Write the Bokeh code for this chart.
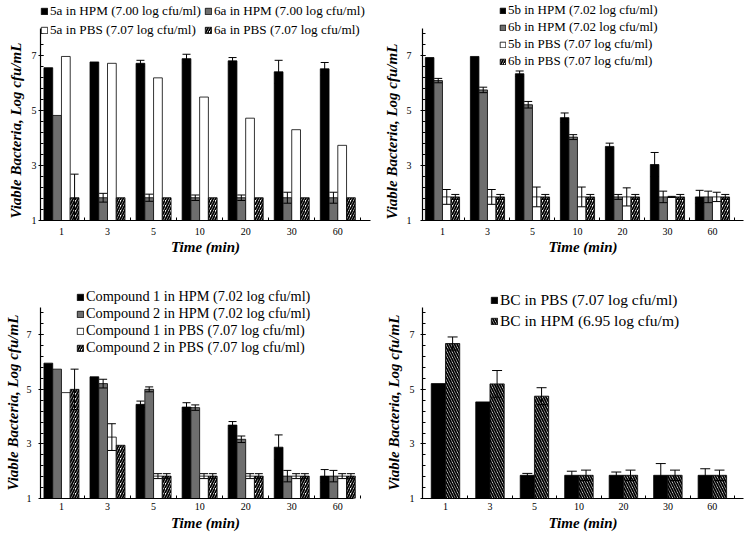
import numpy as np
from bokeh.plotting import figure
from bokeh.models import (ColumnDataSource, Range1d, FixedTicker, Whisker,
                          TeeHead, Legend, LegendItem, Title)
from bokeh.layouts import row, column
from bokeh.embed import file_html
from bokeh.resources import INLINE

# ---------------- data ----------------
times = ["1", "3", "5", "10", "20", "30", "60"]
y_ticks = [1, 3, 5, 7]

# panel A (top-left)
a5_hpm = [6.57, 6.78, 6.73, 6.90, 6.82, 6.42, 6.53]
a5_hpm_err = [0, 0, 0.11, 0.16, 0.12, 0.42, 0.23]
a6_hpm = [4.83, 1.83, 1.83, 1.83, 1.83, 1.83, 1.83]
a6_hpm_err = [0, 0.16, 0.13, 0.10, 0.10, 0.20, 0.20]
a5_pbs = [6.98, 6.73, 6.20, 5.50, 4.73, 4.31, 3.74]
a5_pbs_err = [0, 0, 0, 0, 0, 0, 0]
a6_pbs = [1.83, 1.83, 1.83, 1.83, 1.83, 1.83, 1.83]
a6_pbs_err = [0.86, 0, 0, 0, 0, 0, 0]

# panel B (top-right)
b5_hpm = [6.94, 6.98, 6.35, 4.75, 3.70, 3.04, 1.86]
b5_hpm_err = [0, 0, 0.10, 0.17, 0.12, 0.44, 0.24]
b6_hpm = [6.10, 5.76, 5.22, 4.04, 1.86, 1.86, 1.86]
b6_hpm_err = [0.08, 0.10, 0.12, 0.09, 0.09, 0.21, 0.21]
b5_pbs = [1.86, 1.86, 1.86, 1.86, 1.86, 1.86, 1.86]
b5_pbs_err = [0.27, 0.27, 0.36, 0.36, 0.33, 0.02, 0.17]
b6_pbs = [1.86, 1.86, 1.86, 1.86, 1.86, 1.86, 1.86]
b6_pbs_err = [0.09, 0.09, 0.09, 0.09, 0.09, 0.09, 0.09]

# panel C (bottom-left)
c1_hpm = [5.96, 5.46, 4.45, 4.35, 3.69, 2.88, 1.82]
c1_hpm_err = [0, 0, 0.12, 0.16, 0.13, 0.45, 0.24]
c2_hpm = [5.74, 5.21, 5.00, 4.33, 3.17, 1.82, 1.82]
c2_hpm_err = [0, 0.16, 0.09, 0.10, 0.12, 0.21, 0.21]
c1_pbs = [4.88, 3.25, 1.82, 1.82, 1.82, 1.82, 1.82]
c1_pbs_err = [0, 0.49, 0.09, 0.09, 0.09, 0.09, 0.09]
c2_pbs = [5.00, 2.95, 1.82, 1.82, 1.82, 1.82, 1.82]
c2_pbs_err = [0.74, 0, 0.09, 0.09, 0.09, 0.09, 0.09]

# panel D (bottom-right)
bc_pbs = [5.21, 4.54, 1.85, 1.85, 1.85, 1.85, 1.85]
bc_pbs_err = [0, 0, 0.07, 0.15, 0.12, 0.43, 0.24]
bc_hpm = [6.68, 5.20, 4.75, 1.85, 1.85, 1.85, 1.85]
bc_hpm_err = [0.24, 0.49, 0.31, 0.19, 0.19, 0.19, 0.19]

# ---------------- styles ----------------
FONT = "Liberation Serif"
BLACK = dict(fill_color="black", line_color="black")
GRAY = dict(fill_color="#6e6e6e", line_color="black")
WHITE = dict(fill_color="white", line_color="black")
HATCH_R = dict(fill_color="white", line_color="black", hatch_pattern="right_diagonal_line",
               hatch_color="black", hatch_scale=5, hatch_weight=1.8)
HATCH_L = dict(fill_color="white", line_color="black", hatch_pattern="left_diagonal_line",
               hatch_color="black", hatch_scale=5, hatch_weight=1.8)


def make_panel(series, width, height, borders, xr, xbounds, ytop, bar_w, head, leg,
               x_standoff, x_title_standoff, y_standoff, ytitle_standoff, ytitle_offset):
    p = figure(width=width, height=height, x_range=Range1d(*xr), y_range=Range1d(1, ytop),
               output_backend="svg", toolbar_location=None,
               min_border_left=borders[0], min_border_right=borders[1],
               min_border_top=borders[2], min_border_bottom=borders[3])
    p.outline_line_color = None
    p.xgrid.visible = False
    p.ygrid.visible = False
    pos = np.arange(1, len(times) + 1)
    n = len(series)
    items = []
    for k, s in enumerate(series):
        off = (k - (n - 1) / 2) * bar_w
        x = pos + off
        vals = np.array(s["values"], dtype=float)
        err = np.array(s["err"], dtype=float)
        src = ColumnDataSource(dict(x=x, top=vals))
        r = p.vbar(x="x", top="top", bottom=1, width=bar_w, source=src,
                   line_width=0.8, **s["style"])
        items.append(LegendItem(label=s["label"], renderers=[r]))
        m = err > 0
        if m.any():
            wsrc = ColumnDataSource(dict(x=x[m], upper=(vals + err)[m], lower=(vals - err)[m]))
            w = Whisker(source=wsrc, base="x", upper="upper", lower="lower",
                        line_color="black", line_width=1, level="annotation",
                        upper_head=TeeHead(size=head, line_color="black", line_width=1),
                        lower_head=TeeHead(size=head, line_color="black", line_width=1))
            p.add_layout(w)

    xa = p.xaxis[0]
    xa.ticker = FixedTicker(ticks=[int(v) for v in pos], minor_ticks=[float(v) + 0.5 for v in pos])
    xa.major_label_overrides = {int(v): t for v, t in zip(pos, times)}
    xa.bounds = xbounds
    xa.major_tick_in = 0
    xa.major_tick_out = 0
    xa.minor_tick_in = 3
    xa.minor_tick_out = 0
    xa.major_label_standoff = x_standoff
    xa.axis_label = "Time (min)"
    xa.axis_label_standoff = x_title_standoff
    xa.axis_label_text_font = FONT
    xa.axis_label_text_font_size = "15px"
    xa.axis_label_text_font_style = "bold italic"
    xa.axis_label_text_color = "black"

    ya = p.yaxis[0]
    ya.ticker = FixedTicker(ticks=y_ticks, minor_ticks=[float(v) for v in np.arange(1, 8.01, 0.4)])
    ya.bounds = (1, 8)
    ya.major_tick_in = 3
    ya.major_tick_out = 2
    ya.minor_tick_in = 3
    ya.minor_tick_out = 0
    ya.major_label_standoff = y_standoff

    for ax in (xa, ya):
        ax.axis_line_color = "black"
        ax.axis_line_width = 1.2
        ax.major_tick_line_color = "black"
        ax.minor_tick_line_color = "black"
        ax.major_label_text_font = FONT
        ax.major_label_text_font_size = "10px"
        ax.major_label_text_color = "black"

    # y-axis title, anchored near the bottom of the axis like the original
    ytitle = Title(text="Viable Bacteria, Log cfu/mL", align="left", offset=ytitle_offset,
                   standoff=ytitle_standoff, text_font=FONT, text_font_size="15px",
                   text_font_style="bold italic", text_color="black")
    p.add_layout(ytitle, "left")

    legend = Legend(items=items, location=leg["loc"], orientation=leg.get("orientation", "vertical"),
                    ncols=leg.get("ncols", 1),
                    label_text_font=FONT, label_text_font_size=leg["size"],
                    label_text_color="black",
                    glyph_width=leg["glyph"], glyph_height=leg["glyph"],
                    label_standoff=2, spacing=leg["spacing"], label_height=5,
                    padding=0, margin=0, border_line_color=None,
                    background_fill_alpha=0)
    p.add_layout(legend)
    return p


tl = make_panel(
    [dict(label="5a in HPM (7.00 log cfu/ml)", values=a5_hpm, err=a5_hpm_err, style=BLACK),
     dict(label="6a in HPM (7.00 log cfu/ml)", values=a6_hpm, err=a6_hpm_err, style=GRAY),
     dict(label="5a in PBS (7.07 log cfu/ml)", values=a5_pbs, err=a5_pbs_err, style=WHITE),
     dict(label="6a in PBS (7.07 log cfu/ml)", values=a6_pbs, err=a6_pbs_err, style=HATCH_R)],
    372, 258, (39, 2, 0, 38), (0.545, 7.71), (0.545, 7.71), 9.02, 0.19, 8,
    dict(loc=(0, 182), orientation="horizontal", ncols=2, size="13.2px", glyph=8, spacing=3),
    7, 1, 2, 10, 2)

tr = make_panel(
    [dict(label="5b in HPM (7.02 log cfu/ml)", values=b5_hpm, err=b5_hpm_err, style=BLACK),
     dict(label="6b in HPM (7.02 log cfu/ml)", values=b6_hpm, err=b6_hpm_err, style=GRAY),
     dict(label="5b in PBS (7.07 log cfu/ml)", values=b5_pbs, err=b5_pbs_err, style=WHITE),
     dict(label="6b in PBS (7.07 log cfu/ml)", values=b6_pbs, err=b6_pbs_err, style=HATCH_R)],
    372, 258, (50, 1, 0, 38), (0.556, 7.69), (0.556, 7.69), 9.02, 0.19, 8,
    dict(loc=(77, 151), size="13px", glyph=7, spacing=1),
    7, 1, 9, 7, 1)

bl = make_panel(
    [dict(label="Compound 1 in HPM (7.02 log cfu/ml)", values=c1_hpm, err=c1_hpm_err, style=BLACK),
     dict(label="Compound 2 in HPM (7.02 log cfu/ml)", values=c2_hpm, err=c2_hpm_err, style=GRAY),
     dict(label="Compound 1 in PBS (7.07 log cfu/ml)", values=c1_pbs, err=c1_pbs_err, style=WHITE),
     dict(label="Compound 2 in PBS (7.07 log cfu/ml)", values=c2_pbs, err=c2_pbs_err, style=HATCH_R)],
    372, 276, (39, 2, 0, 36), (0.545, 7.71), (0.545, 7.35), 9.795, 0.19, 8,
    dict(loc=(36, 142), size="14.3px", glyph=8, spacing=0),
    4, 2, 7, 5, 8)

br = make_panel(
    [dict(label="BC in PBS (7.07 log cfu/ml)", values=bc_pbs, err=bc_pbs_err, style=BLACK),
     dict(label="BC in HPM (6.95 log cfu/m)", values=bc_hpm, err=bc_hpm_err, style=HATCH_L)],
    372, 276, (50, 1, 0, 36), (0.483, 7.70), (0.483, 7.70), 9.795, 0.32, 10,
    dict(loc=(68, 168), size="15.5px", glyph=8, spacing=3),
    4, 2, 6, 9, 8)

layout = column(row(tl, tr), row(bl, br))
open("out.html", "w").write(file_html(layout, INLINE))
